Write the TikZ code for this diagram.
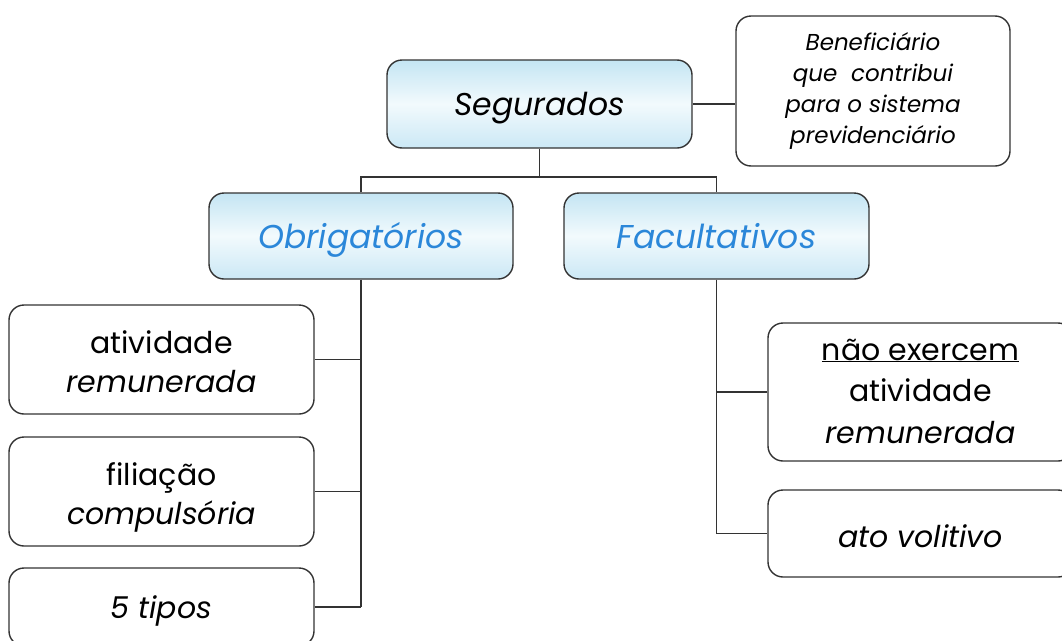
\documentclass[tikz,border=0pt]{standalone}
\usepackage{fontspec}
\setmainfont{Poppins}
\newcommand\mlines[1]{\begin{tabular}[t]{@{}c@{}}#1\end{tabular}}
\definecolor{edge}{HTML}{333333}
\definecolor{tblue}{HTML}{2B87D9}
\definecolor{gtop}{HTML}{C4E5F3}
\definecolor{gmid}{HTML}{F2FAFD}
\definecolor{gbot}{HTML}{CBE8F5}
\tikzset{
  box/.style={draw=edge, line width=1.4pt, rounded corners=15pt, align=center, inner sep=0pt, fill=white},
  gbox/.style={box, top color=gtop, bottom color=gbot, middle color=gmid},
  conn/.style={draw=edge, line width=1.4pt},
  big/.style={font=\fontsize{31.5}{38}\selectfont\itshape},
  bigb/.style={font=\fontsize{33}{38}\selectfont\itshape, text=tblue},
  mid/.style={font=\fontsize{30}{39}\selectfont},
  small/.style={font=\fontsize{23}{31}\selectfont\itshape}
}
\begin{document}
\begin{tikzpicture}[x=1pt,y=-1pt]
\useasboundingbox (0,0) rectangle (1062,640);
\clip (0,0) rectangle (1062,640);
\node[gbox, big, minimum width=305pt, minimum height=88pt, text height=22pt, text depth=0pt] (seg) at (539.5,104) {Segurados};
\node[box, small, minimum width=274pt, minimum height=150pt, text height=0pt, text depth=82pt] (ben) at (873,91) {\mlines{Benefici\'ario\\que\ \ contribui\\para o sistema\\previdenci\'ario}};
\node[gbox, bigb, minimum width=304pt, minimum height=86pt, text height=24pt, text depth=0pt] (obr) at (361,236) {Obrigat\'orios};
\node[gbox, bigb, minimum width=305pt, minimum height=86pt, text height=24pt, text depth=0pt] (fac) at (716.5,236) {Facultativos};
\node[box, mid, minimum width=305pt, minimum height=109pt, text height=0pt, text depth=12.5pt] (l1) at (161.5,359.5) {\mlines{atividade\\\textit{remunerada}}};
\node[box, mid, minimum width=305pt, minimum height=109pt, text height=0pt, text depth=13pt] (l2) at (161.5,491.5) {\mlines{filia\c{c}\~ao\\\textit{compuls\'oria}}};
\node[box, mid, minimum width=305pt, minimum height=78pt, text height=22pt, text depth=0pt] (l3) at (161.5,607) {\textit{5 tipos}};
\node[box, mid, font=\fontsize{30}{41.5}\selectfont, minimum width=305pt, minimum height=138pt, text height=0pt, text depth=64pt] (r1) at (920.5,392) {\mlines{\underline{n\~ao exercem}\\atividade\\\textit{remunerada}}};
\node[box, mid, minimum width=305pt, minimum height=87pt, text height=27pt, text depth=0pt] (r2) at (920.5,533.5) {\textit{ato volitivo}};
\coordinate (j) at (539.5,177);
\draw[conn] (seg.east) -- (seg.east -| ben.west);
\draw[conn] (seg.south) -- (j);
\draw[conn] (obr.north) |- (j) -| (fac.north);
\draw[conn] (obr.south) -- (obr.south |- l3.east);
\draw[conn] (l1.east) -- (l1.east -| obr.south);
\draw[conn] (l2.east) -- (l2.east -| obr.south);
\draw[conn] (l3.east) -- (l3.east -| obr.south);
\draw[conn] (fac.south) -- (fac.south |- r2.west);
\draw[conn] (r1.west) -- (r1.west -| fac.south);
\draw[conn] (r2.west) -- (r2.west -| fac.south);
\end{tikzpicture}
\end{document}
